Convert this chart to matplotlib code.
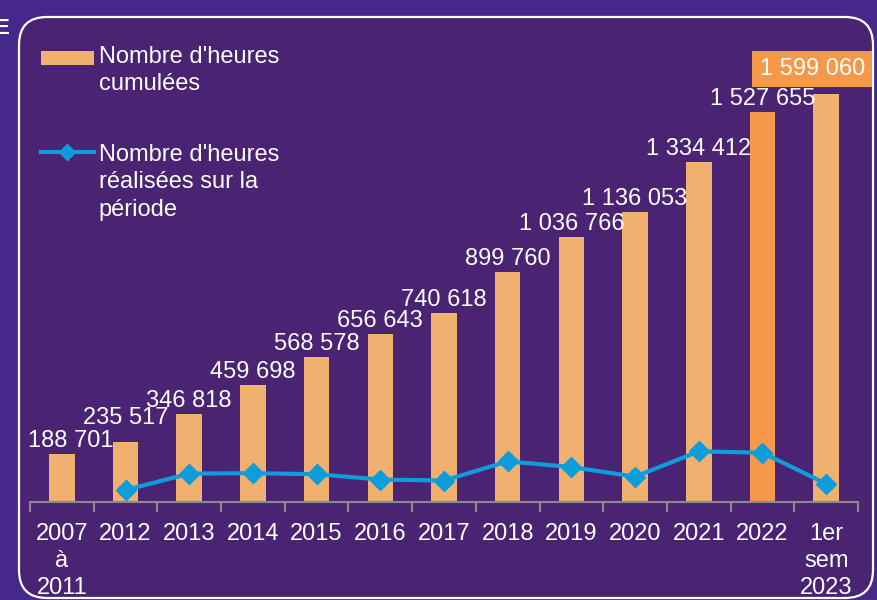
import matplotlib
matplotlib.use("Agg")
import matplotlib.pyplot as plt
import numpy as np
from matplotlib.patches import FancyBboxPatch, Patch, Rectangle
from matplotlib.lines import Line2D
from matplotlib.legend_handler import HandlerPatch, HandlerLine2D
from matplotlib.transforms import IdentityTransform

plt.rcParams['font.family'] = ['Liberation Sans', 'DejaVu Sans']

categories = ["2007\nà\n2011", "2012", "2013", "2014", "2015", "2016", "2017",
              "2018", "2019", "2020", "2021", "2022", "1er\nsem\n2023"]
cumulees = [188701, 235517, 346818, 459698, 568578, 656643, 740618,
            899760, 1036766, 1136053, 1334412, 1527655, 1599060]
realisees = [np.nan, 46816, 111301, 112880, 108880, 88065, 83975,
             159142, 137006, 99287, 198359, 193243, 71405]
value_labels = ["188 701", "235 517", "346 818", "459 698", "568 578", "656 643",
                "740 618", "899 760", "1 036 766", "1 136 053", "1 334 412",
                "1 527 655", "1 599 060"]

OUTER = '#46288a'
INNER = '#4a2372'
BAR = '#f0b070'
BAR_HI = '#f5984a'
BLUE = '#0d9ddb'
FS = 17


class ShiftPatch(HandlerPatch):
    def __init__(self, dy, **kw):
        super().__init__(**kw)
        self.dy = dy

    def create_artists(self, *args, **kw):
        arts = super().create_artists(*args, **kw)
        for a in arts:
            if isinstance(a, Rectangle):
                a.set_y(a.get_y() + self.dy)
        return arts


class ShiftLine(HandlerLine2D):
    def __init__(self, dy, **kw):
        super().__init__(**kw)
        self.dy = dy

    def create_artists(self, *args, **kw):
        arts = super().create_artists(*args, **kw)
        for a in arts:
            if isinstance(a, Line2D):
                a.set_ydata(np.asarray(a.get_ydata()) + self.dy)
        return arts


W, H = 878, 600
fig = plt.figure(figsize=(W / 100, H / 100), dpi=100, facecolor=OUTER)

box = FancyBboxPatch((19, 2), 854, 581, boxstyle="round,pad=0,rounding_size=28",
                     transform=IdentityTransform(), facecolor=INNER,
                     edgecolor='white', linewidth=1.6, zorder=-5)
fig.patches.append(box)
fig.text(-6 / W, 1 - 28 / H, "E", color='white', fontsize=16, fontweight='bold',
         va='center', ha='left')

ax = fig.add_axes([30 / W, 98 / H, 828 / W, 482 / H])
ax.set_zorder(1)
ax.set_facecolor('none')
x = np.arange(len(categories))
colors = [BAR] * len(categories)
colors[11] = BAR_HI
ax.bar(x, cumulees, width=0.4, color=colors, zorder=2)
ax.plot(x, realisees, color=BLUE, linewidth=3, marker='D', markersize=10,
        zorder=3)

ax.set_xlim(-0.5, len(categories) - 0.5)
ax.set_ylim(0, 1889000)

for i, (v, lab) in enumerate(zip(cumulees, value_labels)):
    if i == len(categories) - 1:
        ax.annotate(lab, (i, v), xytext=(-14, 25), textcoords='offset pixels',
                    ha='center', va='center', fontsize=FS, color='white',
                    bbox=dict(boxstyle='square,pad=0.3', facecolor=BAR_HI,
                              edgecolor='none'), zorder=4)
    else:
        dx = 9 if i == 0 else 0
        dy = 13 if i == 1 else 2
        ax.annotate(lab, (i, v), xytext=(dx, dy), textcoords='offset pixels',
                    ha='center', va='bottom', fontsize=FS, color='white',
                    zorder=4)

for s in ['top', 'right', 'left']:
    ax.spines[s].set_visible(False)
ax.spines['bottom'].set_color('#8a8a8a')
ax.spines['bottom'].set_linewidth(1.5)
ax.set_yticks([])
ax.set_xticks(x)
ax.set_xticklabels(categories, fontsize=FS, color='white', linespacing=1.31)
ax.tick_params(axis='x', which='major', length=0, pad=15)
ax.set_xticks(np.arange(-0.5, len(categories)), minor=True)
ax.tick_params(axis='x', which='minor', length=7, width=1.5, color='#8a8a8a',
               direction='out')

h_bar = Patch(facecolor=BAR, edgecolor='none')
h_line = Line2D([0], [0], color=BLUE, linewidth=3, marker='D', markersize=8)
labels = ["Nombre d'heures\ncumulées", "Nombre d'heures\nréalisées sur la\npériode"]
leg = ax.legend([h_bar, h_line], labels, loc='upper left',
                bbox_to_anchor=(-0.007, 0.981),
                frameon=False, fontsize=FS, labelcolor='white', handlelength=2.25,
                handleheight=0.5, handletextpad=0.2, labelspacing=2.1,
                borderaxespad=0.3,
                handler_map={h_bar: ShiftPatch(9.0), h_line: ShiftLine(22.4)})
for t in leg.get_texts():
    t.set_linespacing(1.3)

fig.savefig("out.png", dpi=100, facecolor=OUTER)
